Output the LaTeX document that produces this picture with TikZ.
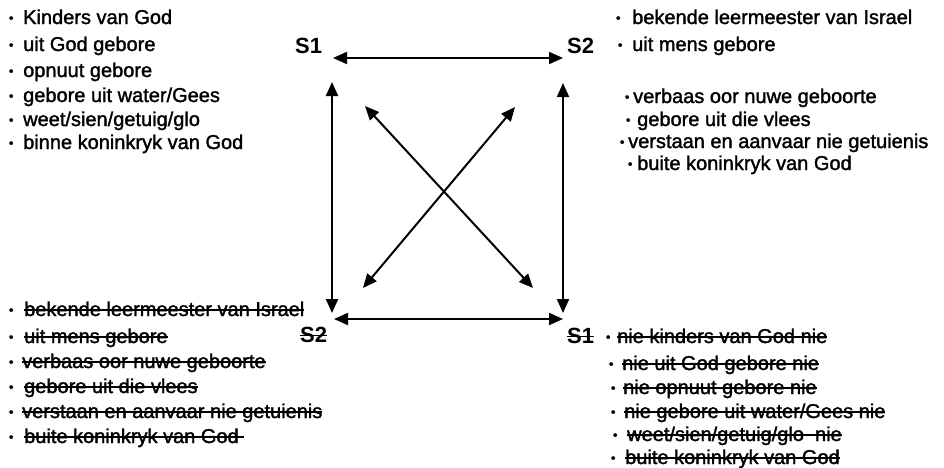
\documentclass[tikz,border=0pt]{standalone}
\usepackage{fontspec}
\setmainfont{Liberation Sans}
\newfontfamily\listfont[FakeBold=1.6]{Liberation Sans}
\usetikzlibrary{arrows.meta}

% struck-through text: a rule drawn across the box of the text
\newsavebox\strkbox
\newcommand\strk[1]{\sbox\strkbox{#1}\rlap{\rule[0.27em]{\wd\strkbox}{1.4pt}}\usebox\strkbox}
% small bullet in a 7pt box, followed by a gap of the given width (pt)
\newcommand\bul[1]{\makebox[7pt]{\raisebox{1.6pt}{\fontsize{13}{13}\selectfont\textbullet}}\hspace{#1pt}}

\begin{document}
\begin{tikzpicture}[x=1pt,y=-1pt,
  item/.style={anchor=base west, inner sep=0pt, font=\listfont\fontsize{20}{24}\selectfont},
  lab/.style={anchor=base west, inner sep=0pt, font=\fontsize{22}{26}\selectfont\bfseries},
  link/.style={line width=2pt, {Triangle[length=14pt,width=12pt]}-{Triangle[length=14pt,width=12pt]}}]
\useasboundingbox (0,0) rectangle (944,467);

% corner labels
\node[lab] (s1top) at (295,53) {S1};
\node[lab] (s2top) at (567,53) {S2};
\node[lab] (s2bot) at (300,342) {\strk{S2}};
\node[lab] (s1bot) at (567,343) {\strk{S1}};

% arrow end points round the square
\coordinate (tA) at (333,58);   \coordinate (tB) at (563,58);
\coordinate (lA) at (332,82);   \coordinate (lB) at (332,313);
\coordinate (rA) at (563,83);   \coordinate (rB) at (563,313);
\coordinate (bA) at (334,319);  \coordinate (bB) at (563,319);
\coordinate (dA) at (365,106);  \coordinate (dB) at (533,288);
\coordinate (eA) at (515,107);  \coordinate (eB) at (363,288);

\draw[link] (tA) -- (tB);
\draw[link] (lA) -- (lB);
\draw[link] (rA) -- (rB);
\draw[link] (bA) -- (bB);
\draw[link] (dA) -- (dB);
\draw[link] (eA) -- (eB);

% top left list
\node[item] (tl1) at (7.5,24)  {\bul{8.5}Kinders van God};
\node[item] (tl2) at (7.5,51)  {\bul{8.5}uit God gebore};
\node[item] (tl3) at (7.5,77)  {\bul{8.5}opnuut gebore};
\node[item] (tl4) at (7.5,102) {\bul{8.5}gebore uit water/Gees};
\node[item] (tl5) at (7.5,126) {\bul{8.5}weet/sien/getuig/glo};
\node[item] (tl6) at (7.5,149) {\bul{8.5}binne koninkryk van God};

% top right list
\node[item] (tr1) at (614.5,24)  {\bul{10.5}bekende leermeester van Israel};
\node[item] (tr2) at (616.5,51)  {\bul{8.5}uit mens gebore};
\node[item] (tr3) at (623.5,103) {\bul{2.5}verbaas oor nuwe geboorte};
\node[item] (tr4) at (624.5,126) {\bul{5.5}gebore uit die vlees};
\node[item] (tr5) at (618.5,148) {\bul{2.5}verstaan en aanvaar nie getuienis};
\node[item] (tr6) at (626.5,170) {\bul{3.5}buite koninkryk van God};

% bottom left list (struck through)
\node[item] (bl1) at (7.5,316) {\bul{9.5}\strk{bekende leermeester van Israel}};
\node[item] (bl2) at (7.5,343) {\bul{9.5}\strk{uit mens gebore}};
\node[item] (bl3) at (7.5,368) {\bul{7.5}\strk{verbaas oor nuwe geboorte}};
\node[item] (bl4) at (7.5,393) {\bul{9.5}\strk{gebore uit die vlees}};
\node[item] (bl5) at (7.5,418) {\bul{7.5}\strk{verstaan en aanvaar nie getuienis}};
\node[item] (bl6) at (7.5,443) {\bul{9.5}\strk{buite koninkryk van God }};

% bottom right list (struck through)
\node[item] (br1) at (604.5,343) {\bul{5.5}\strk{nie kinders van God nie}};
\node[item] (br2) at (607.5,370) {\bul{7.5}\strk{nie uit God gebore nie}};
\node[item] (br3) at (609.5,394) {\bul{6.5}\strk{nie opnuut gebore nie}};
\node[item] (br4) at (609.5,418) {\bul{7.5}\strk{nie gebore uit water/Gees nie}};
\node[item] (br5) at (611.5,441) {\bul{8.5}\strk{weet/sien/getuig/glo\ \ nie}};
\node[item] (br6) at (609.5,464) {\bul{8.5}\strk{buite koninkryk van God}};
\end{tikzpicture}
\end{document}
